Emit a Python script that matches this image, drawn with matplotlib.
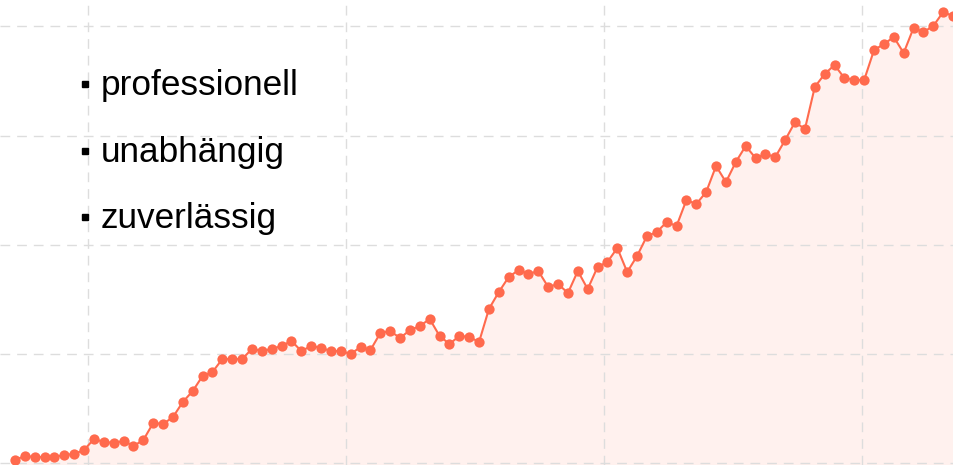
import numpy as np
import matplotlib.pyplot as plt
from matplotlib.lines import Line2D

plt.rcParams['font.family'] = ['Liberation Sans', 'DejaVu Sans']

# values (grid lines at 0, 100, 200, 300, 400)
values = [
    3.2, 6.9, 5.9, 5.9, 5.9, 7.8, 8.7, 12.4, 22.4, 19.7,
    18.8, 20.6, 16.0, 21.5, 37.1, 36.1, 42.5, 56.3, 66.3, 80.1,
    83.7, 95.6, 95.6, 95.6, 104.8, 102.9, 104.8, 107.5, 112.1, 102.9,
    107.5, 105.7, 102.9, 102.9, 100.2, 106.6, 103.8, 119.4, 121.2, 114.8,
    122.1, 125.8, 132.2, 116.7, 109.3, 116.7, 115.8, 111.2, 141.4, 156.9,
    170.6, 177.0, 173.4, 176.1, 161.5, 164.2, 156.0, 176.1, 159.6, 179.8,
    184.4, 197.2, 175.2, 189.8, 208.1, 211.8, 220.9, 217.3, 241.1, 237.4,
    248.4, 272.2, 257.5, 275.8, 290.5, 279.5, 283.2, 280.4, 296.0, 312.4,
    306.0, 344.5, 356.4, 364.6, 352.7, 350.9, 350.9, 378.3, 383.8, 390.2,
    375.6, 398.5, 394.8, 400.3, 413.1, 409.4,
]
labels = ['professionell', 'unabhängig', 'zuverlässig']

x = np.arange(len(values))
line_color = '#FF6A4D'
fill_color = '#FFF1EE'

W, H = 954, 465
fig = plt.figure(figsize=(W / 100, H / 100), dpi=100)
ax = fig.add_axes([0, 0, 1, 1])

ax.fill_between(x, values, -10, color=fill_color, lw=0, zorder=1)
ax.plot(x, values, color=line_color, lw=1.5, marker='o', ms=7.4,
        markeredgewidth=0, zorder=3)

# pixel mapping: point i at 15 + 9.874*i px; grid every 100 units = 109.3 px
step = 9.874
ax.set_xlim(-15 / step, (W - 15) / step)
ax.set_ylim(-1.4, 424.1)

ax.set_xticks([(88 - 15) / step + k * 258 / step for k in range(4)])
ax.set_yticks([0, 100, 200, 300, 400])
ax.grid(True, color='#DDDDDD', lw=1.0, ls=(0, (7, 5)), zorder=2)
ax.set_axisbelow(False)
for s in ax.spines.values():
    s.set_visible(False)
ax.tick_params(length=0, labelbottom=False, labelleft=False)

baselines = [95, 162, 228]
for lab, b in zip(labels, baselines):
    fig.text(101 / W, 1 - b / H, lab, fontsize=25.3, color='black',
             ha='left', va='baseline')
    fig.add_artist(Line2D([85.5 / W], [1 - (b - 11) / H], marker='s', ms=5,
                          color='black', transform=fig.transFigure))

fig.savefig('out.png', dpi=100)
